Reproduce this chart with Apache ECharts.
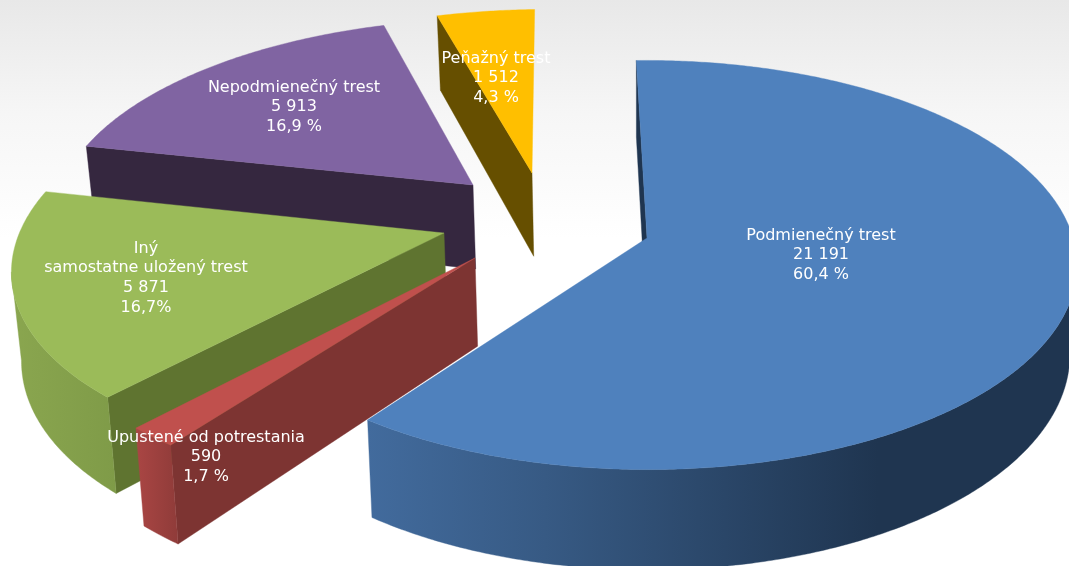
<!DOCTYPE html>
<html>
<head>
<meta charset="utf-8">
<style>html,body{margin:0;padding:0;background:#fff}#chart{width:1069px;height:566px}</style>
<script src="https://cdn.jsdelivr.net/npm/echarts@6/dist/echarts.min.js"></script>
</head>
<body>
<div id="chart"></div>
<script>
// Data
var categories = ['Podmienečný trest', 'Upustené od potrestania', 'Iný\nsamostatne uložený trest', 'Nepodmienečný trest', 'Peňažný trest'];
var values = [21191, 590, 5871, 5913, 1512];
var valueLabels = ['21 191', '590', '5 871', '5 913', '1 512'];
var percentLabels = ['60,4 %', '1,7 %', '16,7%', '16,9 %', '4,3 %'];

// Colours per slice
var topColors = ['#4f81bd', '#c0504d', '#9bbb59', '#8064a2', '#ffbf00'];
var cutColors = ['#1f3550', '#7d3432', '#5f7430', '#35273f', '#664f00'];
var sideStops = [
  [[0, '#426b9d'], [0.25, '#375a84'], [0.72, '#1f3550'], [1, '#1f3550']],
  [[0, '#aa4644'], [1, '#8f3b39']],
  [[0, '#8aa64f'], [1, '#7f9b48']],
  [[0, '#35273f'], [1, '#35273f']],
  [[0, '#664f00'], [1, '#664f00']]
];

// Where each exploded slice's tip lands on screen, and its label centre
var tips = [[647, 238], [475, 258], [444, 233], [473, 185], [532, 173]];
var labelPos = [[821, 255], [206, 457], [146, 278], [294, 107], [496, 78]];
var drawRank = [4, 3, 2, 1, 0];

// Perspective of the pie plane
var CX = 640, CY = 238, RADIUS = 426, FLAT = 201, PERSP = 0.132;
var DEPTH = 87, TAPER = 0.984, START_ANGLE = -1.5;

var total = values.reduce(function (a, b) { return a + b; }, 0);

function worldTip(tip) {
  var s = (tip[1] - CY) / FLAT;
  var v = s / (1 + PERSP * s);
  return { x: (tip[0] - CX) * (1 - PERSP * v), v: v };
}
function project(x, v) {
  var w = 1 - PERSP * v;
  return { x: CX + x / w, y: CY + FLAT * v / w, w: w };
}
function topPoint(base, deg, r) {
  var a = deg * Math.PI / 180;
  var p = project(base.x + r * RADIUS * Math.sin(a), base.v - r * Math.cos(a));
  return [p.x, p.y, p.w];
}
function dropped(p) {
  return [CX + (p[0] - CX) * TAPER, p[1] + DEPTH / p[2]];
}

function renderSlice(params, api) {
  var i = params.dataIndex;
  var before = values.slice(0, i).reduce(function (a, b) { return a + b; }, 0);
  var a1 = START_ANGLE + before / total * 360;
  var a2 = a1 + api.value(0) / total * 360;
  var base = worldTip(tips[i]);
  var apex = topPoint(base, 0, 0);
  var arc = [];
  for (var d = a1; d < a2; d += 0.5) arc.push(topPoint(base, d, 1));
  arc.push(topPoint(base, a2, 1));

  var z = drawRank[i] * 10;
  var children = [];
  function poly(points, fill, z2) {
    children.push({
      type: 'polygon', z2: z2, silent: true,
      shape: { points: points.map(function (p) { return [p[0], p[1]]; }) },
      style: { fill: fill, stroke: fill, lineWidth: 0.4 }
    });
  }
  // cut face on the leading edge, the trailing one is never seen
  poly([apex, arc[0], dropped(arc[0]), dropped(apex)], cutColors[i], z + 1);

  // outer wall, from the right silhouette round the front to the left one
  var from = 0, to = 0;
  arc.forEach(function (p, k) {
    if (p[0] > arc[from][0]) from = k;
    if (p[0] < arc[to][0]) to = k;
  });
  if (from < to) {
    var front = arc.slice(from, to + 1);
    var wall = front.concat(front.slice().reverse().map(dropped));
    poly(wall, new echarts.graphic.LinearGradient(0, 0, 1, 0, sideStops[i].map(function (s) {
      return { offset: s[0], color: s[1] };
    })), z + 2);
  }
  poly([apex].concat(arc), topColors[i], z + 3);

  children.push({
    type: 'text', z2: 100, silent: true,
    x: labelPos[i][0], y: labelPos[i][1],
    style: {
      text: categories[i] + '\n' + valueLabels[i] + '\n' + percentLabels[i],
      fill: '#fff', align: 'center', verticalAlign: 'middle',
      font: '16px "DejaVu Sans"', lineHeight: 19.6
    }
  });
  return { type: 'group', children: children };
}

var chart = echarts.init(document.getElementById('chart'));
chart.setOption({
  animation: false,
  backgroundColor: new echarts.graphic.LinearGradient(0, 0, 0, 1, [
    { offset: 0, color: '#e8e8e8' },
    { offset: 0.2, color: '#f6f6f6' },
    { offset: 0.42, color: '#ffffff' },
    { offset: 1, color: '#ffffff' }
  ]),
  series: [{
    type: 'custom',
    coordinateSystem: 'none',
    renderItem: renderSlice,
    clip: false,
    data: categories.map(function (name, i) { return { name: name, value: [values[i]] }; })
  }]
});
</script>
</body>
</html>
